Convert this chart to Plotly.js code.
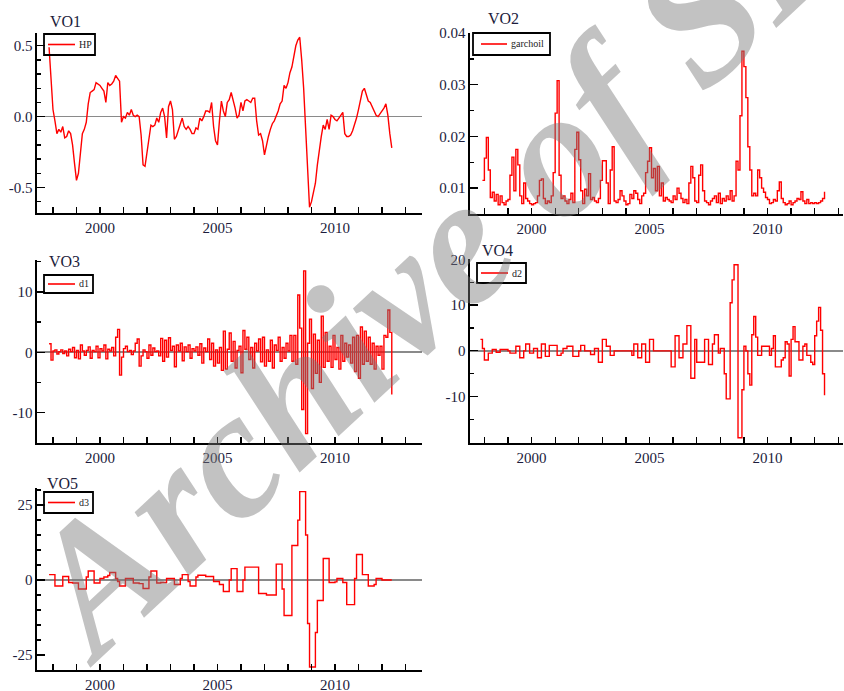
<!DOCTYPE html>
<html><head><meta charset="utf-8">
<script src="https://cdn.plot.ly/plotly-3.0.1.min.js"></script>
<style>html,body{margin:0;padding:0;background:#fff}#chart{width:844px;height:691px}</style>
</head><body><div id="chart"></div>
<script>
// monthly observations starting November 1997
const startYear = 1997, startMonth = 11;

const panelTitles = ['VO1', 'VO2', 'VO3', 'VO4', 'VO5'];
const seriesNames = ['HP', 'garchoil', 'd1', 'd2', 'd3'];
const xTickVals = [2000, 2005, 2010];
const xTickText = ['2000', '2005', '2010'];

const hp = [
 0.49, 0.22, 0.05, -0.03, -0.12, -0.09, -0.11, -0.07, -0.15, -0.14,
 -0.10, -0.12, -0.20, -0.33, -0.45, -0.40, -0.25, -0.12, -0.09, -0.04,
 0.09, 0.17, 0.18, 0.19, 0.24, 0.23, 0.22, 0.20, 0.18, 0.10,
 0.24, 0.22, 0.23, 0.25, 0.29, 0.27, 0.25, -0.04, 0.00, -0.01,
 0.03, 0.01, 0.05, 0.01, 0.00, 0.01, 0.00, -0.13, -0.34, -0.35,
 -0.26, -0.17, -0.06, -0.07, -0.06, -0.01, -0.04, 0.03, 0.06, 0.00,
 -0.15, 0.07, 0.11, 0.05, -0.16, -0.14, -0.09, -0.06, -0.01, -0.07,
 -0.09, -0.07, -0.09, -0.12, -0.12, -0.08, -0.09, -0.01, -0.03, 0.00,
 0.04, 0.04, 0.03, 0.10, -0.07, -0.17, -0.20, -0.03, 0.11, 0.04,
 0.00, 0.10, 0.12, 0.17, 0.12, 0.06, -0.01, 0.01, 0.10, 0.04,
 0.11, 0.12, 0.11, 0.10, 0.13, 0.13, -0.03, -0.13, -0.12, -0.17,
 -0.27, -0.19, -0.14, -0.09, -0.05, -0.03, 0.00, 0.04, 0.09, 0.11,
 0.22, 0.20, 0.24, 0.31, 0.35, 0.43, 0.50, 0.54, 0.56, 0.40,
 0.20, -0.08, -0.39, -0.64, -0.60, -0.54, -0.47, -0.34, -0.22, -0.14,
 -0.06, -0.09, -0.02, -0.09, 0.01, 0.00, -0.02, -0.03, -0.01, 0.01,
 0.03, -0.12, -0.14, -0.14, -0.13, -0.10, -0.06, -0.01, 0.05, 0.11,
 0.18, 0.20, 0.16, 0.11, 0.10, 0.07, 0.04, 0.01, 0.00, 0.02,
 0.04, 0.06, 0.09, 0.01, -0.12, -0.22
];

// garch series begins one month later (December 1997)
const garchoil = [
 0.0115, 0.0158, 0.0198, 0.0135, 0.0082, 0.0092, 0.0075, 0.0088, 0.0068, 0.0085,
 0.0072, 0.0068, 0.0075, 0.0078, 0.0125, 0.0160, 0.0095, 0.0175, 0.0145, 0.0085,
 0.0070, 0.0110, 0.0080, 0.0075, 0.0070, 0.0068, 0.0070, 0.0072, 0.0085, 0.0115,
 0.0118, 0.0080, 0.0070, 0.0075, 0.0072, 0.0085, 0.0130, 0.0245, 0.0308, 0.0125,
 0.0080, 0.0085, 0.0075, 0.0070, 0.0078, 0.0090, 0.0072, 0.0175, 0.0208, 0.0155,
 0.0095, 0.0070, 0.0098, 0.0085, 0.0128, 0.0078, 0.0082, 0.0075, 0.0072, 0.0080,
 0.0115, 0.0153, 0.0153, 0.0110, 0.0070, 0.0135, 0.0180, 0.0075, 0.0072, 0.0078,
 0.0095, 0.0085, 0.0075, 0.0068, 0.0070, 0.0088, 0.0080, 0.0095, 0.0090, 0.0078,
 0.0070, 0.0085, 0.0090, 0.0130, 0.0152, 0.0178, 0.0120, 0.0138, 0.0095, 0.0142,
 0.0085, 0.0110, 0.0075, 0.0082, 0.0078, 0.0075, 0.0072, 0.0085, 0.0078, 0.0100,
 0.0090, 0.0080, 0.0072, 0.0078, 0.0070, 0.0110, 0.0142, 0.0120, 0.0075, 0.0072,
 0.0125, 0.0145, 0.0095, 0.0075, 0.0072, 0.0068, 0.0075, 0.0080, 0.0085, 0.0072,
 0.0090, 0.0070, 0.0080, 0.0075, 0.0085, 0.0078, 0.0095, 0.0075, 0.0085, 0.0152,
 0.0135, 0.0240, 0.0365, 0.0335, 0.0275, 0.0180, 0.0135, 0.0085, 0.0090, 0.0085,
 0.0135, 0.0120, 0.0100, 0.0092, 0.0082, 0.0078, 0.0070, 0.0072, 0.0078, 0.0075,
 0.0095, 0.0112, 0.0080, 0.0072, 0.0068, 0.0070, 0.0075, 0.0068, 0.0072, 0.0075,
 0.0080, 0.0078, 0.0093, 0.0075, 0.0070, 0.0078, 0.0070, 0.0072, 0.0070, 0.0072,
 0.0070, 0.0072, 0.0075, 0.0080, 0.0093
];

const d1 = [
 1.4, -1.3, 0.2, 0.4, -0.3, 0.1, 0.4, -0.2, 0.2, -0.6,
 0.5, 0.1, 0.8, -0.9, 0.3, -1.1, 1.2, 0.2, -0.5, 0.3,
 0.9, -1.0, 0.3, 0.1, 1.0, -0.9, 0.6, 0.2, 1.2, -1.1,
 0.5, 0.2, 0.8, -0.6, 2.5, 3.8, -3.8, -0.8, 0.6, 1.0,
 0.1, 0.3, -0.4, 0.2, 1.5, 2.2, -2.3, -0.6, 0.4, 0.1,
 -1.0, 1.2, -0.5, 0.7, 0.1, 0.2, -0.6, 2.3, -1.5, 2.0,
 -0.8, 2.4, 0.3, 1.0, -2.4, 1.2, 0.2, 1.5, -1.4, 0.9,
 0.1, 1.2, -1.0, 0.6, 0.2, 0.9, -0.5, 1.4, -1.8, 0.7,
 0.1, 2.2, -1.2, 1.5, -2.3, 0.4, -1.8, 0.8, -3.0, 3.5,
 -2.8, 0.5, 3.2, -1.5, 1.8, -2.6, 0.3, 1.0, -3.4, 3.6,
 0.5, 2.5, -1.2, 0.8, -2.6, 1.5, 0.2, 2.2, -1.6, 2.5,
 -2.3, 0.4, -1.5, 2.0, -2.6, 1.2, 0.3, 2.5, -1.5, 0.8,
 -1.0, 1.5, 0.2, 2.8, -1.5, 2.8, -2.0, 9.5, 4.0, -9.5,
 13.5, -13.5, 1.5, 5.5, -6.0, 3.0, -3.5, 2.0, -5.0, 6.0,
 -2.5, 3.3, -1.5, 1.0, -2.5, 2.8, -1.2, 0.8, -2.8, 2.8,
 -1.5, 1.5, -0.8, 1.2, -1.8, 2.5, -3.2, 2.8, -4.3, 4.2,
 -2.0, 3.5, -1.5, 2.5, -2.0, 1.5, -2.8, 1.0, -0.5, 1.0,
 -2.8, 2.8, 2.5, 7.0, 3.3, -7.0
];

const d2 = [
 2.5, 0.5, -2.0, -2.0, -0.5, -0.5, 0.3, 0.3, -0.3, -0.3,
 0.3, 0.3, 0.3, 0.3, 0.0, -0.5, -0.5, -0.5, 1.0, 1.0,
 -1.5, -1.5, 0.0, 1.5, 1.5, -0.5, -0.5, 0.5, 0.5, -1.5,
 -1.5, 1.5, 1.5, -1.2, -1.2, 1.2, 1.2, 1.2, 1.2, -1.0,
 -1.0, -0.5, 0.5, 0.5, 1.0, 1.0, 1.0, -1.2, -1.2, -1.2,
 0.0, 1.2, 1.2, 0.0, 0.0, 0.0, -0.8, -0.8, 0.5, 0.5,
 -2.5, -2.5, 2.5, 2.5, 1.0, 1.0, -1.0, -1.0, 0.0, 0.0,
 0.0, 0.0, 0.0, 0.0, 0.0, 0.0, 0.0, -1.0, 1.5, 1.5,
 -1.5, -1.5, 1.5, 1.5, -2.5, -2.5, 2.5, 2.5, 0.0, 0.0,
 0.0, 0.0, 0.0, 0.0, 0.0, 0.0, 0.0, -3.5, -3.5, 3.3,
 3.3, -1.5, -1.5, 1.5, 1.5, 5.5, 5.5, -6.0, -6.0, 2.5,
 -2.5, -2.5, -2.5, -2.5, 2.5, 2.5, -3.0, -3.0, 1.5, 3.5,
 3.5, -0.5, 0.5, 0.5, -5.0, -10.5, -10.5, 10.5, 15.5, 18.8,
 18.8, -19.0, -19.0, -8.5, 1.0, 0.0, -5.0, -7.5, 3.5, 7.5,
 3.0, -1.0, -1.0, 1.0, 1.0, 1.0, 1.0, -1.0, 0.5, 3.3,
 -3.5, -3.5, -3.5, -2.0, -1.5, 2.0, 1.5, -5.5, 2.5, 5.3,
 2.0, 2.0, -2.0, -2.0, 1.0, 1.5, -1.0, -1.0, -2.5, -3.0,
 3.3, 6.5, 9.5, 4.5, -5.0, -9.7
];

const d3 = [
 1.8, 1.8, 1.8, -2.0, -2.0, -2.0, -2.0, 1.2, 1.2, 1.2,
 -0.8, -0.8, -1.0, -1.0, -1.0, -3.0, -3.0, -3.0, -3.0, 1.0,
 3.0, 3.0, 3.0, -1.0, -1.0, -1.0, 0.5, 0.5, 1.0, 1.0,
 1.5, 2.5, 2.5, 2.5, 0.5, -0.5, -2.0, -2.0, -2.0, 0.5,
 0.5, 0.5, 0.5, -1.0, -1.0, -1.0, -1.2, -1.2, -2.8, -2.8,
 -2.8, 1.0, 3.0, 3.0, 3.0, -1.0, -1.0, -0.8, -0.8, -0.8,
 0.5, 0.5, 0.5, 0.5, -1.5, -1.5, -1.5, 0.5, 1.8, 1.8,
 1.8, -0.5, -2.0, -2.0, -2.0, 1.0, 1.6, 1.6, 1.6, 1.6,
 1.2, 1.2, 1.2, 1.2, -0.5, -0.5, -0.5, -1.5, -1.5, -3.8,
 -3.8, -3.8, 0.0, 3.8, 3.8, 3.8, -3.8, -3.8, -3.8, 0.0,
 4.3, 4.3, 4.3, 4.3, 4.3, 4.3, 4.3, -4.5, -4.5, -4.5,
 -4.5, -5.0, -5.0, -5.0, -5.0, -5.0, 5.3, 5.3, 5.3, -3.0,
 -11.8, -11.8, -11.8, -11.8, 11.5, 11.5, 11.5, 20.0, 29.5, 29.5,
 29.5, 15.0, -14.5, -29.0, -29.0, -29.0, -17.5, -6.8, -6.8, -6.8,
 7.2, 7.2, 7.2, -0.8, -0.8, -0.8, -0.6, 0.5, 0.5, 0.5,
 -0.8, -0.8, -8.2, -8.2, -8.2, -8.2, 0.5, 8.5, 8.5, 8.5,
 1.8, 1.8, 1.8, -2.0, -2.0, -2.0, -1.5, 0.5, 0.5, 0.5,
 0.0, 0.0, 0.0, 0.0, 0.0, 0.0
];

const yTickVals = [[-0.5, 0, 0.5], [0.01, 0.02, 0.03, 0.04], [-10, 0, 10], [-10, 0, 10, 20], [-25, 0, 25]];
const yTickText = [['-0.5', '0.0', '0.5'], ['0.01', '0.02', '0.03', '0.04'], ['-10', '0', '10'], ['-10', '0', '10', '20'], ['-25', '0', '25']];
const yMinorStep = [0.1, 0.005, 5, 5, 5];
const yRanges = [[-0.68, 0.59], [0.005, 0.04], [-15.1, 15.3], [-20.2, 20], [-30, 30.7]];

// ---------- build ----------
const W = 844, H = 691;
const xs = [];
for (let i = 0; i < hp.length; i++) xs.push(startYear + (startMonth - 1 + i) / 12);

const seriesX = [xs, xs.slice(1), xs, xs, xs];
const seriesY = [hp, garchoil, d1, d2, d3];
const shapesMode = ['linear', 'hv', 'hv', 'hv', 'hv'];

// pixel boxes [left, right, top, bottom]
const boxes = [
  [37, 421.7, 33, 213],
  [470, 843, 33, 214],
  [37, 421.7, 260, 443.3],
  [470, 843, 259.3, 443.3],
  [37, 421.7, 488, 670]
];
const xRanges = [[1997.32, 2013.69], [1997.39, 2013.2], [1997.32, 2013.69], [1997.39, 2013.2], [1997.32, 2013.69]];
// legend boxes [left, right, top, bottom], sample line [x0, x1]
const legendBoxes = [[44, 95, 34, 55], [473, 550, 33, 55], [44, 93, 275, 293], [477, 526, 263, 283], [44, 93, 492, 513]];
const legendLine = [[48, 75], [481, 507], [48, 75], [481, 508], [48, 75]];
const titlePos = [[48, 21.5], [486, 19], [47, 261.5], [480, 250], [45, 483]];

const ink = '#1c1c3c';
const serif = 'Liberation Serif, Times New Roman, serif';
const px = v => v / W, py = v => 1 - v / H;

const data = [];
const layout = {
  width: W, height: H,
  margin: {l: 0, r: 0, t: 0, b: 0},
  paper_bgcolor: '#fff', plot_bgcolor: 'rgba(0,0,0,0)',
  annotations: [], shapes: [], showlegend: false
};

for (let k = 0; k < 5; k++) {
  const sfx = k === 0 ? '' : String(k + 1);
  data.push({
    x: seriesX[k], y: seriesY[k], type: 'scatter', mode: 'lines',
    name: seriesNames[k], line: {color: '#ff0000', width: 1.4, shape: shapesMode[k]},
    xaxis: 'x' + sfx, yaxis: 'y' + sfx, hoverinfo: 'skip'
  });
  const b = boxes[k];
  layout['xaxis' + sfx] = {
    domain: [px(b[0]), px(b[1])], anchor: 'y' + sfx, range: xRanges[k],
    showline: true, linecolor: '#000', linewidth: 1.6,
    ticks: 'inside', ticklen: 6, tickwidth: 1.3, tickcolor: '#000',
    tickmode: 'array', tickvals: xTickVals, ticktext: xTickText,
    minor: {tickmode: 'linear', tick0: 2000, dtick: 1, ticks: 'inside', ticklen: 6, tickwidth: 1.3, tickcolor: '#000', showgrid: false},
    showgrid: false, zeroline: false, ticklabelstandoff: 0,
    tickfont: {family: serif, size: 15, color: ink}
  };
  layout['yaxis' + sfx] = {
    domain: [py(b[3]), py(b[2])], anchor: 'x' + sfx, range: yRanges[k],
    showline: true, linecolor: '#000', linewidth: 1.6,
    ticks: 'inside', ticklen: 8, tickwidth: 1.3, tickcolor: '#000',
    tickmode: 'array', tickvals: yTickVals[k], ticktext: yTickText[k],
    minor: {tickmode: 'linear', tick0: 0, dtick: yMinorStep[k], ticks: 'inside', ticklen: 4, tickwidth: 1.3, tickcolor: '#000', showgrid: false},
    showgrid: false, zeroline: true, zerolinecolor: '#8a8a8a', zerolinewidth: 1.6,
    tickfont: {family: serif, size: 15, color: ink}
  };
  // legend box drawn as layout shapes
  const lb = legendBoxes[k], ll = legendLine[k];
  const midY = (lb[2] + lb[3]) / 2;
  layout.shapes.push({type: 'rect', xref: 'paper', yref: 'paper',
    x0: px(lb[0]), x1: px(lb[1]), y0: py(lb[3]), y1: py(lb[2]),
    line: {color: '#000', width: 1.8}, fillcolor: 'rgba(0,0,0,0)'});
  layout.shapes.push({type: 'line', xref: 'paper', yref: 'paper',
    x0: px(ll[0]), x1: px(ll[1]), y0: py(midY), y1: py(midY),
    line: {color: '#ff0000', width: 1.6}});
  layout.annotations.push({
    text: seriesNames[k], xref: 'paper', yref: 'paper',
    x: px(ll[1] + 2), y: py(midY), xanchor: 'left', yanchor: 'middle',
    showarrow: false, font: {family: serif, size: 10, color: '#222'}
  });
  layout.annotations.push({
    text: panelTitles[k], xref: 'paper', yref: 'paper',
    x: px(titlePos[k][0]), y: py(titlePos[k][1]), xanchor: 'left', yanchor: 'middle',
    showarrow: false, font: {family: serif, size: 16, color: ink}
  });
}

// watermark
layout.annotations.push({
  text: 'Archive of SID', xref: 'paper', yref: 'paper', x: px(466), y: py(234),
  xanchor: 'center', yanchor: 'middle', showarrow: false, textangle: -43,
  font: {family: serif, size: 182, color: 'rgba(120,120,120,0.45)', weight: 'bold', style: 'italic'}
});

Plotly.newPlot('chart', data, layout, {staticPlot: true, displayModeBar: false});
</script></body></html>
